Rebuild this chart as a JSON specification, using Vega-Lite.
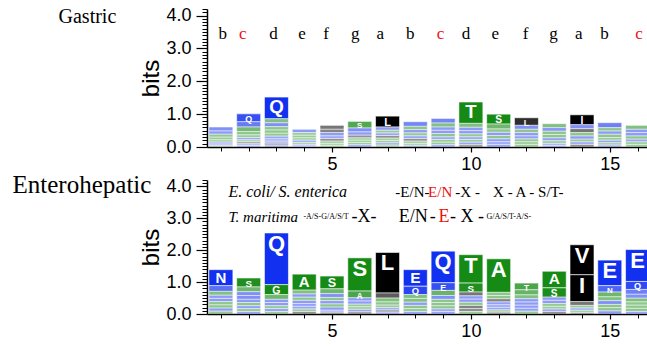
{
  "$schema": "https://vega.github.io/schema/vega-lite/v6.json",
  "background": "white",
  "padding": {"left": 12, "top": 6, "right": 0, "bottom": 0},
  "spacing": 0,
  "config": {
    "view": {"stroke": null},
    "axis": {"grid": false, "domainColor": "black", "tickColor": "black", "labelColor": "black", "titleColor": "black", "labelFont": "Liberation Sans", "titleFont": "Liberation Sans"}
  },
  "datasets": {
    "gastric": [
      {"pos":1,"aa":"E","bits":0.12},{"pos":1,"aa":"Q","bits":0.1},{"pos":1,"aa":"S","bits":0.09},{"pos":1,"aa":"A","bits":0.08},{"pos":1,"aa":"T","bits":0.07},{"pos":1,"aa":"N","bits":0.06},{"pos":1,"aa":"D","bits":0.05},{"pos":1,"aa":"G","bits":0.04},
      {"pos":2,"aa":"Q","bits":0.24},{"pos":2,"aa":"E","bits":0.16},{"pos":2,"aa":"G","bits":0.14},{"pos":2,"aa":"S","bits":0.1},{"pos":2,"aa":"T","bits":0.08},{"pos":2,"aa":"N","bits":0.07},{"pos":2,"aa":"L","bits":0.06},{"pos":2,"aa":"A","bits":0.06},{"pos":2,"aa":"D","bits":0.05},{"pos":2,"aa":"K","bits":0.05},
      {"pos":3,"aa":"Q","bits":0.66},{"pos":3,"aa":"E","bits":0.12},{"pos":3,"aa":"S","bits":0.12},{"pos":3,"aa":"T","bits":0.1},{"pos":3,"aa":"G","bits":0.1},{"pos":3,"aa":"A","bits":0.09},{"pos":3,"aa":"N","bits":0.08},{"pos":3,"aa":"D","bits":0.07},{"pos":3,"aa":"K","bits":0.06},{"pos":3,"aa":"L","bits":0.06},{"pos":3,"aa":"R","bits":0.06},
      {"pos":4,"aa":"E","bits":0.1},{"pos":4,"aa":"G","bits":0.08},{"pos":4,"aa":"S","bits":0.08},{"pos":4,"aa":"N","bits":0.07},{"pos":4,"aa":"A","bits":0.07},{"pos":4,"aa":"T","bits":0.06},{"pos":4,"aa":"Q","bits":0.05},{"pos":4,"aa":"D","bits":0.03},
      {"pos":5,"aa":"V","bits":0.12},{"pos":5,"aa":"E","bits":0.1},{"pos":5,"aa":"L","bits":0.1},{"pos":5,"aa":"I","bits":0.08},{"pos":5,"aa":"Q","bits":0.08},{"pos":5,"aa":"S","bits":0.07},{"pos":5,"aa":"A","bits":0.06},{"pos":5,"aa":"G","bits":0.05},
      {"pos":6,"aa":"S","bits":0.2},{"pos":6,"aa":"E","bits":0.12},{"pos":6,"aa":"Q","bits":0.1},{"pos":6,"aa":"L","bits":0.08},{"pos":6,"aa":"N","bits":0.07},{"pos":6,"aa":"T","bits":0.07},{"pos":6,"aa":"A","bits":0.07},{"pos":6,"aa":"G","bits":0.07},
      {"pos":7,"aa":"L","bits":0.33},{"pos":7,"aa":"E","bits":0.1},{"pos":7,"aa":"V","bits":0.08},{"pos":7,"aa":"Q","bits":0.08},{"pos":7,"aa":"S","bits":0.08},{"pos":7,"aa":"N","bits":0.07},{"pos":7,"aa":"A","bits":0.07},{"pos":7,"aa":"G","bits":0.07},{"pos":7,"aa":"T","bits":0.06},
      {"pos":8,"aa":"E","bits":0.14},{"pos":8,"aa":"Q","bits":0.1},{"pos":8,"aa":"A","bits":0.1},{"pos":8,"aa":"S","bits":0.09},{"pos":8,"aa":"L","bits":0.08},{"pos":8,"aa":"N","bits":0.08},{"pos":8,"aa":"T","bits":0.07},{"pos":8,"aa":"G","bits":0.06},{"pos":8,"aa":"D","bits":0.05},
      {"pos":9,"aa":"Q","bits":0.14},{"pos":9,"aa":"A","bits":0.12},{"pos":9,"aa":"S","bits":0.1},{"pos":9,"aa":"E","bits":0.1},{"pos":9,"aa":"N","bits":0.1},{"pos":9,"aa":"G","bits":0.08},{"pos":9,"aa":"T","bits":0.08},{"pos":9,"aa":"D","bits":0.08},{"pos":9,"aa":"K","bits":0.07},
      {"pos":10,"aa":"T","bits":0.65},{"pos":10,"aa":"A","bits":0.12},{"pos":10,"aa":"E","bits":0.1},{"pos":10,"aa":"Q","bits":0.1},{"pos":10,"aa":"S","bits":0.09},{"pos":10,"aa":"N","bits":0.08},{"pos":10,"aa":"G","bits":0.08},{"pos":10,"aa":"D","bits":0.08},{"pos":10,"aa":"L","bits":0.07},
      {"pos":11,"aa":"S","bits":0.3},{"pos":11,"aa":"T","bits":0.15},{"pos":11,"aa":"A","bits":0.1},{"pos":11,"aa":"E","bits":0.1},{"pos":11,"aa":"G","bits":0.1},{"pos":11,"aa":"D","bits":0.09},{"pos":11,"aa":"N","bits":0.08},{"pos":11,"aa":"Q","bits":0.08},
      {"pos":12,"aa":"L","bits":0.23},{"pos":12,"aa":"Q","bits":0.12},{"pos":12,"aa":"N","bits":0.1},{"pos":12,"aa":"S","bits":0.1},{"pos":12,"aa":"A","bits":0.09},{"pos":12,"aa":"E","bits":0.09},{"pos":12,"aa":"G","bits":0.08},{"pos":12,"aa":"T","bits":0.08},
      {"pos":13,"aa":"S","bits":0.12},{"pos":13,"aa":"N","bits":0.11},{"pos":13,"aa":"G","bits":0.1},{"pos":13,"aa":"A","bits":0.1},{"pos":13,"aa":"E","bits":0.09},{"pos":13,"aa":"T","bits":0.08},{"pos":13,"aa":"Q","bits":0.06},{"pos":13,"aa":"D","bits":0.05},
      {"pos":14,"aa":"I","bits":0.3},{"pos":14,"aa":"L","bits":0.12},{"pos":14,"aa":"E","bits":0.12},{"pos":14,"aa":"N","bits":0.1},{"pos":14,"aa":"S","bits":0.1},{"pos":14,"aa":"V","bits":0.08},{"pos":14,"aa":"Q","bits":0.08},{"pos":14,"aa":"A","bits":0.08},
      {"pos":15,"aa":"E","bits":0.15},{"pos":15,"aa":"A","bits":0.1},{"pos":15,"aa":"Q","bits":0.1},{"pos":15,"aa":"S","bits":0.1},{"pos":15,"aa":"N","bits":0.08},{"pos":15,"aa":"G","bits":0.08},{"pos":15,"aa":"T","bits":0.07},{"pos":15,"aa":"D","bits":0.06},
      {"pos":16,"aa":"A","bits":0.12},{"pos":16,"aa":"T","bits":0.1},{"pos":16,"aa":"E","bits":0.1},{"pos":16,"aa":"N","bits":0.1},{"pos":16,"aa":"S","bits":0.08},{"pos":16,"aa":"G","bits":0.08},{"pos":16,"aa":"Q","bits":0.08}
    ],
    "entero": [
      {"pos":1,"aa":"N","bits":0.5},{"pos":1,"aa":"Q","bits":0.18},{"pos":1,"aa":"S","bits":0.12},{"pos":1,"aa":"E","bits":0.1},{"pos":1,"aa":"T","bits":0.1},{"pos":1,"aa":"A","bits":0.1},{"pos":1,"aa":"K","bits":0.1},{"pos":1,"aa":"D","bits":0.1},{"pos":1,"aa":"G","bits":0.09},
      {"pos":2,"aa":"S","bits":0.28},{"pos":2,"aa":"T","bits":0.15},{"pos":2,"aa":"E","bits":0.12},{"pos":2,"aa":"N","bits":0.12},{"pos":2,"aa":"A","bits":0.1},{"pos":2,"aa":"Q","bits":0.1},{"pos":2,"aa":"G","bits":0.09},{"pos":2,"aa":"D","bits":0.09},{"pos":2,"aa":"K","bits":0.08},
      {"pos":3,"aa":"Q","bits":1.62},{"pos":3,"aa":"G","bits":0.31},{"pos":3,"aa":"S","bits":0.15},{"pos":3,"aa":"N","bits":0.1},{"pos":3,"aa":"D","bits":0.1},{"pos":3,"aa":"E","bits":0.09},{"pos":3,"aa":"A","bits":0.09},{"pos":3,"aa":"T","bits":0.08},
      {"pos":4,"aa":"A","bits":0.5},{"pos":4,"aa":"S","bits":0.12},{"pos":4,"aa":"E","bits":0.1},{"pos":4,"aa":"G","bits":0.1},{"pos":4,"aa":"N","bits":0.1},{"pos":4,"aa":"Q","bits":0.09},{"pos":4,"aa":"L","bits":0.08},{"pos":4,"aa":"T","bits":0.08},{"pos":4,"aa":"D","bits":0.08},
      {"pos":5,"aa":"S","bits":0.4},{"pos":5,"aa":"A","bits":0.15},{"pos":5,"aa":"E","bits":0.12},{"pos":5,"aa":"N","bits":0.1},{"pos":5,"aa":"T","bits":0.1},{"pos":5,"aa":"Q","bits":0.1},{"pos":5,"aa":"G","bits":0.1},{"pos":5,"aa":"L","bits":0.06},{"pos":5,"aa":"D","bits":0.06},
      {"pos":6,"aa":"S","bits":1.04},{"pos":6,"aa":"A","bits":0.21},{"pos":6,"aa":"E","bits":0.1},{"pos":6,"aa":"N","bits":0.1},{"pos":6,"aa":"Q","bits":0.08},{"pos":6,"aa":"T","bits":0.08},{"pos":6,"aa":"G","bits":0.08},{"pos":6,"aa":"L","bits":0.07},
      {"pos":7,"aa":"L","bits":1.27},{"pos":7,"aa":"V","bits":0.16},{"pos":7,"aa":"A","bits":0.12},{"pos":7,"aa":"S","bits":0.1},{"pos":7,"aa":"G","bits":0.08},{"pos":7,"aa":"I","bits":0.07},{"pos":7,"aa":"N","bits":0.07},{"pos":7,"aa":"E","bits":0.06},
      {"pos":8,"aa":"E","bits":0.52},{"pos":8,"aa":"Q","bits":0.26},{"pos":8,"aa":"T","bits":0.12},{"pos":8,"aa":"S","bits":0.12},{"pos":8,"aa":"A","bits":0.1},{"pos":8,"aa":"N","bits":0.1},{"pos":8,"aa":"G","bits":0.09},{"pos":8,"aa":"D","bits":0.08},
      {"pos":9,"aa":"Q","bits":0.99},{"pos":9,"aa":"E","bits":0.24},{"pos":9,"aa":"S","bits":0.16},{"pos":9,"aa":"N","bits":0.12},{"pos":9,"aa":"T","bits":0.1},{"pos":9,"aa":"A","bits":0.1},{"pos":9,"aa":"G","bits":0.1},{"pos":9,"aa":"D","bits":0.08},{"pos":9,"aa":"K","bits":0.08},
      {"pos":10,"aa":"T","bits":0.89},{"pos":10,"aa":"S","bits":0.28},{"pos":10,"aa":"V","bits":0.12},{"pos":10,"aa":"I","bits":0.1},{"pos":10,"aa":"A","bits":0.1},{"pos":10,"aa":"E","bits":0.1},{"pos":10,"aa":"N","bits":0.1},{"pos":10,"aa":"L","bits":0.09},{"pos":10,"aa":"G","bits":0.08},
      {"pos":11,"aa":"A","bits":1.05},{"pos":11,"aa":"L","bits":0.1},{"pos":11,"aa":"T","bits":0.1},{"pos":11,"aa":"S","bits":0.1},{"pos":11,"aa":"E","bits":0.09},{"pos":11,"aa":"Q","bits":0.08},{"pos":11,"aa":"N","bits":0.08},{"pos":11,"aa":"G","bits":0.07},{"pos":11,"aa":"V","bits":0.06},
      {"pos":12,"aa":"T","bits":0.21},{"pos":12,"aa":"A","bits":0.16},{"pos":12,"aa":"S","bits":0.12},{"pos":12,"aa":"E","bits":0.1},{"pos":12,"aa":"N","bits":0.1},{"pos":12,"aa":"Q","bits":0.1},{"pos":12,"aa":"G","bits":0.09},{"pos":12,"aa":"D","bits":0.09},
      {"pos":13,"aa":"A","bits":0.52},{"pos":13,"aa":"S","bits":0.29},{"pos":13,"aa":"N","bits":0.1},{"pos":13,"aa":"Q","bits":0.1},{"pos":13,"aa":"T","bits":0.09},{"pos":13,"aa":"L","bits":0.08},{"pos":13,"aa":"E","bits":0.08},{"pos":13,"aa":"G","bits":0.08},
      {"pos":14,"aa":"V","bits":0.94},{"pos":14,"aa":"I","bits":0.84},{"pos":14,"aa":"L","bits":0.12},{"pos":14,"aa":"A","bits":0.08},{"pos":14,"aa":"S","bits":0.07},{"pos":14,"aa":"E","bits":0.07},{"pos":14,"aa":"M","bits":0.05},
      {"pos":15,"aa":"E","bits":0.8},{"pos":15,"aa":"N","bits":0.2},{"pos":15,"aa":"S","bits":0.15},{"pos":15,"aa":"Q","bits":0.12},{"pos":15,"aa":"A","bits":0.12},{"pos":15,"aa":"D","bits":0.1},{"pos":15,"aa":"G","bits":0.1},{"pos":15,"aa":"T","bits":0.1},
      {"pos":16,"aa":"E","bits":1.0},{"pos":16,"aa":"Q","bits":0.25},{"pos":16,"aa":"N","bits":0.15},{"pos":16,"aa":"S","bits":0.12},{"pos":16,"aa":"D","bits":0.12},{"pos":16,"aa":"T","bits":0.1},{"pos":16,"aa":"A","bits":0.1},{"pos":16,"aa":"G","bits":0.1},{"pos":16,"aa":"K","bits":0.08}
    ],
    "heptad": [
      {"pos":1.07,"h":"b"},{"pos":1.79,"h":"c"},{"pos":2.89,"h":"d"},{"pos":3.92,"h":"e"},{"pos":4.79,"h":"f"},{"pos":5.84,"h":"g"},{"pos":6.74,"h":"a"},{"pos":7.82,"h":"b"},
      {"pos":8.91,"h":"c"},{"pos":9.82,"h":"d"},{"pos":10.88,"h":"e"},{"pos":11.97,"h":"f"},{"pos":12.97,"h":"g"},{"pos":13.88,"h":"a"},{"pos":14.81,"h":"b"},{"pos":16.05,"h":"c"}
    ]
  },
  "vconcat": [
    {
      "width": 440,
      "height": 138,
      "resolve": {"axis": {"y": "independent", "x": "independent"}},
      "layer": [
        {
          "data": {"name": "gastric"},
          "mark": {"type": "bar", "orient": "vertical", "width": 24, "clip": true, "stroke": "white", "strokeWidth": 0.6},
          "encoding": {
            "x": {"field": "pos", "type": "quantitative", "scale": {"domain": [0.5, 16.34], "nice": false, "zero": false, "padding": 0},
              "axis": {"orient": "bottom", "values": [5, 10, 15], "format": "d", "tickSize": 5, "labelPadding": 3, "labelFontSize": 18, "title": null, "domainWidth": 1.5, "tickWidth": 1.2, "labelFlush": false, "labelOverlap": false}},
            "y": {"field": "bits", "type": "quantitative", "stack": "zero", "scale": {"domain": [0, 4.2], "nice": false},
              "axis": {"orient": "left", "values": [0, 1, 2, 3, 4], "format": ".1f", "tickSize": 11, "labelPadding": 5, "labelFontSize": 18, "title": "bits", "titleFontSize": 24, "titleFontWeight": "normal", "titlePadding": 2, "domainWidth": 1.5, "tickWidth": 1.2, "labelFlush": false, "labelOverlap": false}},
            "color": {"field": "aa", "type": "nominal", "scale": {"domain": ["A","D","E","G","I","K","L","M","N","Q","R","S","T","V"], "range": ["#158a15","#1230f0","#1230f0","#158a15","#000000","#1230f0","#000000","#000000","#1230f0","#1230f0","#1230f0","#158a15","#158a15","#000000"]}, "legend": null},
            "opacity": {"field": "bits", "type": "quantitative", "scale": {"domain": [0.05, 0.3], "range": [0.35, 1], "clamp": true}, "legend": null},
            "order": {"field": "bits", "type": "quantitative", "sort": "ascending"}
          }
        },
        {
          "data": {"name": "gastric"},
          "mark": {"type": "text", "color": "white", "fontWeight": "bold", "font": "Liberation Sans", "baseline": "top", "dy": 1, "clip": true},
          "encoding": {
            "x": {"field": "pos", "type": "quantitative", "axis": null},
            "y": {"field": "bits", "type": "quantitative", "stack": "zero", "axis": null},
            "detail": {"field": "aa", "type": "nominal"},
            "order": {"field": "bits", "type": "quantitative", "sort": "ascending"},
            "text": {"condition": {"test": "datum.bits >= 0.2", "field": "aa"}, "value": ""},
            "size": {"field": "bits", "type": "quantitative", "scale": {"domain": [0.2, 0.8], "range": [8, 22], "clamp": true}, "legend": null}
          }
        },
        {
          "data": {"name": "heptad"},
          "mark": {"type": "text", "font": "Liberation Serif", "fontSize": 17, "baseline": "middle", "align": "center"},
          "encoding": {
            "x": {"field": "pos", "type": "quantitative", "axis": {"orient": "bottom", "values": [1,2,3,4,6,7,8,9,11,12,13,14,16], "labels": false, "domain": false, "tickSize": 4, "tickWidth": 1, "title": null}},
            "y": {"datum": 3.44, "type": "quantitative", "axis": {"orient": "left", "values": [0.1,0.2,0.3,0.4,0.5,0.6,0.7,0.8,0.9,1.1,1.2,1.3,1.4,1.5,1.6,1.7,1.8,1.9,2.1,2.2,2.3,2.4,2.5,2.6,2.7,2.8,2.9,3.1,3.2,3.3,3.4,3.5,3.6,3.7,3.8,3.9,4.1,4.2], "labels": false, "domain": false, "tickSize": 5, "tickWidth": 1, "title": null}},
            "text": {"field": "h"},
            "color": {"condition": {"test": "datum.h === 'c'", "value": "#ee1111"}, "value": "black"}
          }
        },
        {
          "data": {"values": [{"panel": "Gastric"}]},
          "mark": {"type": "text", "font": "Liberation Serif", "fontSize": 20, "align": "left", "baseline": "alphabetic", "color": "black"},
          "encoding": {
            "x": {"datum": -4.845, "type": "quantitative", "axis": null},
            "y": {"datum": 3.76, "type": "quantitative", "axis": null},
            "text": {"field": "panel"}
          }
        }
      ]
    },
    {
      "width": 440,
      "height": 134,
      "resolve": {"axis": {"y": "independent", "x": "independent"}},
      "layer": [
        {
          "data": {"name": "entero"},
          "mark": {"type": "bar", "orient": "vertical", "width": 24, "clip": true, "stroke": "white", "strokeWidth": 0.6},
          "encoding": {
            "x": {"field": "pos", "type": "quantitative", "scale": {"domain": [0.5, 16.34], "nice": false, "zero": false, "padding": 0},
              "axis": {"orient": "bottom", "values": [5, 10, 15], "format": "d", "tickSize": 5, "labelPadding": 3, "labelFontSize": 18, "title": null, "domainWidth": 1.5, "tickWidth": 1.2, "labelFlush": false, "labelOverlap": false}},
            "y": {"field": "bits", "type": "quantitative", "stack": "zero", "scale": {"domain": [0, 4.2], "nice": false},
              "axis": {"orient": "left", "values": [0, 1, 2, 3, 4], "format": ".1f", "tickSize": 11, "labelPadding": 5, "labelFontSize": 18, "title": "bits", "titleFontSize": 24, "titleFontWeight": "normal", "titlePadding": 2, "domainWidth": 1.5, "tickWidth": 1.2, "labelFlush": false, "labelOverlap": false}},
            "color": {"field": "aa", "type": "nominal", "scale": {"domain": ["A","D","E","G","I","K","L","M","N","Q","R","S","T","V"], "range": ["#158a15","#1230f0","#1230f0","#158a15","#000000","#1230f0","#000000","#000000","#1230f0","#1230f0","#1230f0","#158a15","#158a15","#000000"]}, "legend": null},
            "opacity": {"field": "bits", "type": "quantitative", "scale": {"domain": [0.05, 0.3], "range": [0.35, 1], "clamp": true}, "legend": null},
            "order": {"field": "bits", "type": "quantitative", "sort": "ascending"}
          }
        },
        {
          "data": {"name": "entero"},
          "mark": {"type": "text", "color": "white", "fontWeight": "bold", "font": "Liberation Sans", "baseline": "top", "dy": 1, "clip": true},
          "encoding": {
            "x": {"field": "pos", "type": "quantitative", "axis": null},
            "y": {"field": "bits", "type": "quantitative", "stack": "zero", "axis": null},
            "detail": {"field": "aa", "type": "nominal"},
            "order": {"field": "bits", "type": "quantitative", "sort": "ascending"},
            "text": {"condition": {"test": "datum.bits >= 0.2", "field": "aa"}, "value": ""},
            "size": {"field": "bits", "type": "quantitative", "scale": {"domain": [0.2, 0.8], "range": [8, 22], "clamp": true}, "legend": null}
          }
        },
        {
          "data": {"values": [{"pos": 1.27, "t": "E. coli/ S. enterica"}]},
          "mark": {"type": "text", "font": "Liberation Serif", "fontSize": 16, "fontStyle": "italic", "align": "left", "baseline": "middle", "color": "black"},
          "encoding": {"x": {"field": "pos", "type": "quantitative", "axis": {"orient": "bottom", "values": [1,2,3,4,6,7,8,9,11,12,13,14,16], "labels": false, "domain": false, "tickSize": 4, "tickWidth": 1, "title": null}}, "y": {"datum": 3.81, "type": "quantitative", "axis": {"orient": "left", "values": [0.1,0.2,0.3,0.4,0.5,0.6,0.7,0.8,0.9,1.1,1.2,1.3,1.4,1.5,1.6,1.7,1.8,1.9,2.1,2.2,2.3,2.4,2.5,2.6,2.7,2.8,2.9,3.1,3.2,3.3,3.4,3.5,3.6,3.7,3.8,3.9,4.1,4.2], "labels": false, "domain": false, "tickSize": 5, "tickWidth": 1, "title": null}}, "text": {"field": "t"}}
        },
        {
          "data": {"values": [{"pos": 1.27, "t": "T. maritima"}]},
          "mark": {"type": "text", "font": "Liberation Serif", "fontSize": 15, "fontStyle": "italic", "align": "left", "baseline": "middle", "color": "black"},
          "encoding": {"x": {"field": "pos", "type": "quantitative", "axis": null}, "y": {"datum": 3.05, "type": "quantitative", "axis": null}, "text": {"field": "t"}}
        },
        {
          "data": {"values": [{"pos": 7.28, "t": "-E/N-"}, {"pos": 9.44, "t": "-X -"}, {"pos": 10.8, "t": "X - A - S/T-"}]},
          "mark": {"type": "text", "font": "Liberation Serif", "fontSize": 15, "align": "left", "baseline": "middle", "color": "black"},
          "encoding": {"x": {"field": "pos", "type": "quantitative", "axis": null}, "y": {"datum": 3.81, "type": "quantitative", "axis": null}, "text": {"field": "t"}}
        },
        {
          "data": {"values": [{"pos": 8.46, "t": "E/N"}]},
          "mark": {"type": "text", "font": "Liberation Serif", "fontSize": 15, "align": "left", "baseline": "middle", "color": "#ee1111"},
          "encoding": {"x": {"field": "pos", "type": "quantitative", "axis": null}, "y": {"datum": 3.81, "type": "quantitative", "axis": null}, "text": {"field": "t"}}
        },
        {
          "data": {"values": [{"pos": 5.7, "t": "-X-"}, {"pos": 7.4, "t": "E/N"}, {"pos": 8.52, "t": "-"}, {"pos": 9.25, "t": "- X -"}]},
          "mark": {"type": "text", "font": "Liberation Serif", "fontSize": 18, "align": "left", "baseline": "middle", "color": "black"},
          "encoding": {"x": {"field": "pos", "type": "quantitative", "axis": null}, "y": {"datum": 3.05, "type": "quantitative", "axis": null}, "text": {"field": "t"}}
        },
        {
          "data": {"values": [{"pos": 8.83, "t": "E"}]},
          "mark": {"type": "text", "font": "Liberation Serif", "fontSize": 18, "align": "left", "baseline": "middle", "color": "#ee1111"},
          "encoding": {"x": {"field": "pos", "type": "quantitative", "axis": null}, "y": {"datum": 3.05, "type": "quantitative", "axis": null}, "text": {"field": "t"}}
        },
        {
          "data": {"values": [{"pos": 3.97, "t": "-A/S-G/A/S/T"}, {"pos": 10.56, "t": "G/A/S/T-A/S-"}]},
          "mark": {"type": "text", "font": "Liberation Serif", "fontSize": 8, "align": "left", "baseline": "middle", "color": "black"},
          "encoding": {"x": {"field": "pos", "type": "quantitative", "axis": null}, "y": {"datum": 3.05, "type": "quantitative", "axis": null}, "text": {"field": "t"}}
        },
        {
          "data": {"values": [{"panel": "Enterohepatic"}]},
          "mark": {"type": "text", "font": "Liberation Serif", "fontSize": 25, "align": "left", "baseline": "alphabetic", "color": "black"},
          "encoding": {
            "x": {"datum": -6.5, "type": "quantitative", "axis": null},
            "y": {"datum": 3.79, "type": "quantitative", "axis": null},
            "text": {"field": "panel"}
          }
        }
      ]
    }
  ]
}
